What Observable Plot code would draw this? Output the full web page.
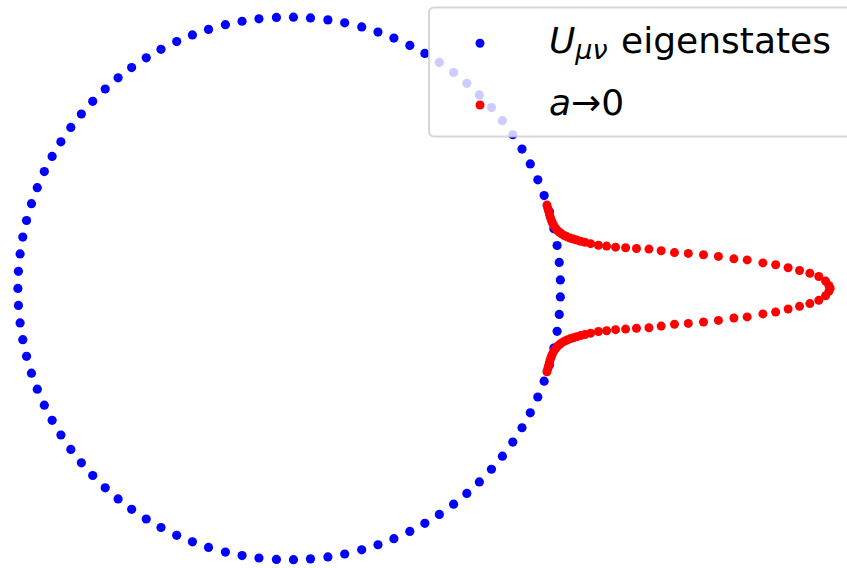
<!DOCTYPE html>
<html>
<head>
<meta charset="utf-8">
<script src="https://cdn.jsdelivr.net/npm/d3@7"></script>
<script src="https://cdn.jsdelivr.net/npm/@observablehq/plot@0.6"></script>
<style>
  body { margin: 0; background: #fff; }
  #chart { position: relative; width: 847px; height: 568px; }
</style>
</head>
<body>
<div id="chart"></div>
<script>
// Phases (degrees) of the U_mu-nu eigenvalues, all on the unit circle
const phaseDeg = [
  1.8, 5.5, 9.1, 12.7, 16.4, 20.0, 23.6, 27.3, 30.9, 34.5,
  38.2, 41.8, 45.5, 49.1, 52.7, 56.4, 60.0, 63.6, 67.3, 70.9,
  74.5, 78.2, 81.8, 85.5, 89.1, 92.7, 96.4, 100.0, 103.6, 107.3,
  110.9, 114.5, 118.2, 121.8, 125.5, 129.1, 132.7, 136.4, 140.0, 143.6,
  147.3, 150.9, 154.5, 158.2, 161.8, 165.5, 169.1, 172.7, 176.4, 180.0,
  -1.8, -5.5, -9.1, -12.7, -16.4, -20.0, -23.6, -27.3, -30.9, -34.5,
  -38.2, -41.8, -45.5, -49.1, -52.7, -56.4, -60.0, -63.6, -67.3, -70.9,
  -74.5, -78.2, -81.8, -85.5, -89.1, -92.7, -96.4, -100.0, -103.6, -107.3,
  -110.9, -114.5, -118.2, -121.8, -125.5, -129.1, -132.7, -136.4, -140.0, -143.6,
  -147.3, -150.9, -154.5, -158.2, -161.8, -165.5, -169.1, -172.7, -176.4
];

// a -> 0 spectrum: real and imaginary parts, upper branch then lower branch
const redRe = [
  0.950, 0.953, 0.956, 0.959, 0.962, 0.966, 0.970, 0.975, 0.981, 0.988,
  0.996, 1.004, 1.014, 1.024, 1.035, 1.047, 1.060, 1.074, 1.090, 1.111,
  1.140, 1.170, 1.203, 1.240, 1.280, 1.326, 1.371, 1.420, 1.471, 1.527,
  1.582, 1.639, 1.688, 1.746, 1.793, 1.839, 1.881, 1.919, 1.952, 1.977,
  1.989, 1.994,
  1.989, 1.977, 1.952, 1.919, 1.881, 1.839, 1.793, 1.746, 1.688, 1.639,
  1.582, 1.527, 1.471, 1.420, 1.371, 1.326, 1.280, 1.240, 1.203, 1.170,
  1.140, 1.111, 1.090, 1.074, 1.060, 1.047, 1.035, 1.024, 1.014, 1.004,
  0.996, 0.988, 0.981, 0.975, 0.970, 0.966, 0.962, 0.959, 0.956, 0.953,
  0.950
];
const redIm = [
  0.307, 0.296, 0.285, 0.274, 0.263, 0.252, 0.242, 0.232, 0.223, 0.214,
  0.207, 0.201, 0.195, 0.190, 0.186, 0.182, 0.178, 0.174, 0.170, 0.165,
  0.159, 0.156, 0.152, 0.150, 0.147, 0.145, 0.139, 0.132, 0.129, 0.124,
  0.118, 0.109, 0.105, 0.094, 0.087, 0.076, 0.066, 0.056, 0.044, 0.027,
  0.011, 0.000,
  -0.011, -0.027, -0.044, -0.056, -0.066, -0.076, -0.087, -0.094, -0.105, -0.109,
  -0.118, -0.124, -0.129, -0.132, -0.139, -0.145, -0.147, -0.150, -0.152, -0.156,
  -0.159, -0.165, -0.170, -0.174, -0.178, -0.182, -0.186, -0.190, -0.195, -0.201,
  -0.207, -0.214, -0.223, -0.232, -0.242, -0.252, -0.263, -0.274, -0.285, -0.296,
  -0.307
];

const seriesLabels = ["eigenstates", "a\u21920"];
const seriesColors = ["#0000ff", "#ff0000"];

const eigen = phaseDeg.map(d => ({
  re: Math.cos(d * Math.PI / 180),
  im: Math.sin(d * Math.PI / 180)
}));
const limit = redRe.map((re, i) => ({re, im: redIm[i]}));

const W = 847, H = 568;

const svg = Plot.plot({
  width: W,
  height: H,
  margin: 0,
  x: {domain: [-1.0641, 2.0578], axis: null},
  y: {domain: [-1.0324, 1.0612], axis: null},
  marks: [
    Plot.dot(eigen, {x: "re", y: "im", r: 4.6, fill: seriesColors[0]}),
    Plot.dot(limit, {x: "re", y: "im", r: 4.5, fill: seriesColors[1]})
  ]
});
document.getElementById("chart").appendChild(svg);

// Legend box drawn on top of the points, semi-transparent like a framed legend
const g = d3.select(svg).append("g")
  .attr("font-family", "'DejaVu Sans', sans-serif")
  .attr("font-size", 36)
  .attr("text-anchor", "start")
  .attr("fill", "#000");

g.append("rect")
  .attr("x", 429).attr("y", 7.5)
  .attr("width", 440).attr("height", 129)
  .attr("rx", 5)
  .attr("fill", "#fff").attr("fill-opacity", 0.8)
  .attr("stroke", "#cccccc").attr("stroke-opacity", 0.8)
  .attr("stroke-width", 2);

const rowY = [43.3, 105];
rowY.forEach((y, i) => {
  g.append("circle")
    .attr("cx", 480).attr("cy", y).attr("r", 4.5)
    .attr("fill", seriesColors[i]);
});

const t1 = g.append("text").attr("x", 549).attr("y", 53);
t1.append("tspan").attr("font-style", "italic").text("U");
t1.append("tspan").attr("font-style", "italic").attr("font-size", 27)
  .attr("dx", 0).attr("dy", 6).text("\u03bc\u03bd");
t1.append("tspan").attr("dx", 2).attr("dy", -6).text(" " + seriesLabels[0]);

const t2 = g.append("text").attr("x", 549).attr("y", 115);
t2.append("tspan").attr("font-style", "italic").text("a");
t2.append("tspan").text("\u21920");
</script>
</body>
</html>
